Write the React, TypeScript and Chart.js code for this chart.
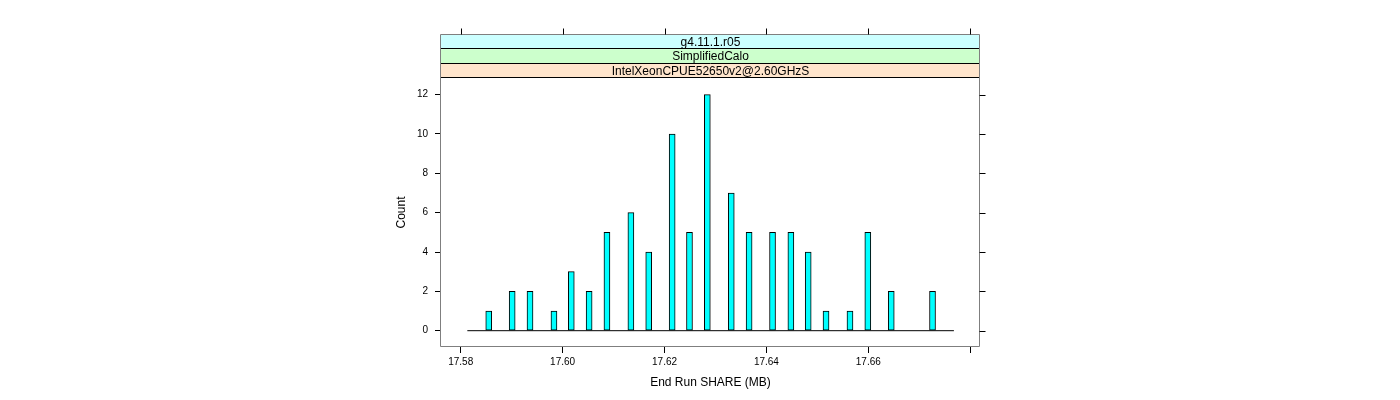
import React, { useEffect, useRef } from "react";
import { Chart, registerables } from "chart.js";

Chart.register(...registerables);

// ---- data ----
const shareValues: number[] = [
  17.5855, 17.5901, 17.5936, 17.5983, 17.6017, 17.6052, 17.6087, 17.6134,
  17.6169, 17.6215, 17.6249, 17.6284, 17.6331, 17.6366, 17.6412, 17.6448,
  17.6482, 17.6517, 17.6564, 17.6599, 17.6645, 17.6726,
];
const counts: number[] = [
  1, 2, 2, 1, 3, 2, 5, 6, 4, 10, 5, 12, 7, 5, 5, 5, 4, 1, 1, 5, 2, 2,
];
const baselineX: number[] = [17.5813, 17.6768];
const xTickValues: number[] = [17.58, 17.6, 17.62, 17.64, 17.66, 17.68];
const xTickLabels: string[] = ["17.58", "17.60", "17.62", "17.64", "17.66", ""];
const yTickValues: number[] = [0, 2, 4, 6, 8, 10, 12];
const yTickLabels: string[] = ["0", "2", "4", "6", "8", "10", "12"];
const stripLabels: string[] = [
  "g4.11.1.r05",
  "SimplifiedCalo",
  "IntelXeonCPUE52650v2@2.60GHzS",
];
const stripColors: string[] = ["#CCFFFF", "#CCFFCC", "#FFE5CC"];
const xTitle = "End Run SHARE (MB)";
const yTitle = "Count";

const FONT = "'Liberation Sans', Arial, Helvetica, sans-serif";

const latticePlugin = {
  id: "latticeDecor",
  afterDraw(chart: any) {
    const { ctx, chartArea, scales } = chart;
    const { left, right, top, bottom } = chartArea;
    const xs = scales.x;
    const ys = scales.y;
    const stripH = 14.4;
    const stripTop = top - stripH * stripLabels.length;
    ctx.save();
    // strips
    for (let i = 0; i < stripLabels.length; i++) {
      const y0 = stripTop + i * stripH;
      ctx.fillStyle = stripColors[i];
      ctx.fillRect(left, y0, right - left, stripH);
      ctx.fillStyle = "#000";
      ctx.font = `12px ${FONT}`;
      ctx.textAlign = "center";
      ctx.textBaseline = "middle";
      ctx.fillText(stripLabels[i], (left + right) / 2, y0 + stripH / 2 + 0.5);
    }
    ctx.strokeStyle = "#000";
    ctx.lineWidth = 1;
    for (let i = 1; i <= stripLabels.length; i++) {
      const yy = Math.round(stripTop + i * stripH) - 0.5;
      ctx.beginPath();
      ctx.moveTo(left, yy);
      ctx.lineTo(right, yy);
      ctx.stroke();
    }
    // frame
    ctx.strokeStyle = "#7f7f7f";
    const fl = Math.round(left) - 0.5;
    const fr = Math.round(right) - 0.5;
    const ft = Math.round(stripTop) - 0.5;
    const fb = Math.round(bottom) - 0.5;
    ctx.beginPath();
    ctx.moveTo(fl, ft);
    ctx.lineTo(fr, ft);
    ctx.lineTo(fr, fb);
    ctx.lineTo(fl, fb);
    ctx.closePath();
    ctx.stroke();
    // top ticks
    ctx.strokeStyle = "#000";
    for (const v of xTickValues) {
      const px = Math.round(xs.getPixelForValue(v)) + 0.5;
      ctx.beginPath();
      ctx.moveTo(px, ft);
      ctx.lineTo(px, ft - 6);
      ctx.stroke();
    }
    // right ticks
    for (const v of yTickValues) {
      const py = Math.round(ys.getPixelForValue(v)) + 0.5;
      ctx.beginPath();
      ctx.moveTo(fr, py);
      ctx.lineTo(fr + 6, py);
      ctx.stroke();
    }
    // titles
    ctx.fillStyle = "#000";
    ctx.font = `12px ${FONT}`;
    ctx.textAlign = "center";
    ctx.textBaseline = "middle";
    ctx.fillText(xTitle, (left + right) / 2, 383);
    ctx.translate(402, (top + bottom) / 2);
    ctx.rotate(-Math.PI / 2);
    ctx.fillText(yTitle, 0, 0);
    ctx.restore();
  },
};

export default function App() {
  const ref = useRef<HTMLCanvasElement | null>(null);
  useEffect(() => {
    document.body.style.margin = "0";
    const canvas = ref.current;
    if (!canvas) return;
    const chart = new Chart(canvas, {
      type: "bar",
      data: {
        datasets: [
          {
            type: "line",
            data: baselineX.map((x) => ({ x, y: 0 })),
            borderColor: "#000",
            borderWidth: 1,
            pointRadius: 0,
            fill: false,
            order: 0,
          } as any,
          {
            type: "bar",
            data: shareValues.map((x, i) => ({ x, y: counts[i] })),
            backgroundColor: "#00FFFF",
            borderColor: "#000",
            borderWidth: 1,
            borderSkipped: false,
            barThickness: 6,
            grouped: false,
            order: 1,
          } as any,
        ],
      },
      options: {
        responsive: false,
        animation: false,
        devicePixelRatio: 1,
        layout: { padding: { left: 381, right: 420, top: 78, bottom: 0 } },
        plugins: {
          legend: { display: false },
          tooltip: { enabled: false },
        },
        scales: {
          x: {
            type: "linear",
            position: "bottom",
            offset: false,
            min: 17.57613,
            max: 17.68192,
            afterBuildTicks: (s: any) => {
              s.ticks = xTickValues.map((v) => ({ value: v }));
            },
            afterFit: (s: any) => {
              s.height = 53;
            },
            ticks: {
              autoSkip: false,
              maxRotation: 0,
              padding: 3,
              color: "#000",
              font: { family: FONT, size: 10 },
              callback: (_v: any, i: number) => xTickLabels[i],
            },
            grid: {
              offset: false,
              drawOnChartArea: false,
              drawTicks: true,
              tickLength: 6,
              color: "#000",
            },
            border: { display: false },
          },
          y: {
            type: "linear",
            min: -0.829,
            max: 12.847,
            afterBuildTicks: (s: any) => {
              s.ticks = yTickValues.map((v) => ({ value: v }));
            },
            afterFit: (s: any) => {
              s.width = 60;
            },
            ticks: {
              autoSkip: false,
              padding: 7,
              color: "#000",
              font: { family: FONT, size: 10 },
              callback: (_v: any, i: number) => yTickLabels[i],
            },
            grid: {
              drawOnChartArea: false,
              drawTicks: true,
              tickLength: 6,
              color: "#000",
            },
            border: { display: false },
          },
        },
      },
      plugins: [latticePlugin],
    });
    return () => chart.destroy();
  }, []);
  return (
    <canvas
      ref={ref}
      width={1400}
      height={400}
      style={{ display: "block", width: "1400px", height: "400px" }}
    />
  );
}
